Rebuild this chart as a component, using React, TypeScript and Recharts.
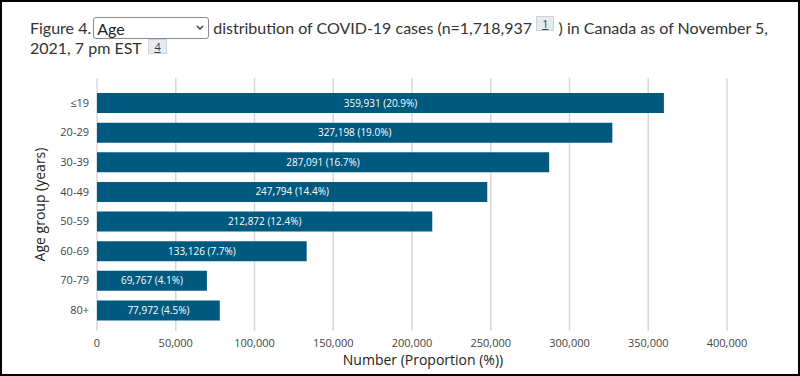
import React from "react";
import { BarChart, Bar, XAxis, YAxis, CartesianGrid, LabelList, Label } from "recharts";

const ageGroups = ["≤19", "20-29", "30-39", "40-49", "50-59", "60-69", "70-79", "80+"];
const caseCounts = [359931, 327198, 287091, 247794, 212872, 133126, 69767, 77972];
const proportions = [20.9, 19.0, 16.7, 14.4, 12.4, 7.7, 4.1, 4.5];
const xTicks = [0, 50000, 100000, 150000, 200000, 250000, 300000, 350000, 400000];

const data = ageGroups.map((g, i) => ({
  group: g,
  count: caseCounts[i],
  label: `${caseCounts[i].toLocaleString("en-US")} (${proportions[i].toFixed(1)}%)`,
}));

const fmt = (v: number) => v.toLocaleString("en-US");

const supStyle: React.CSSProperties = {
  display: "inline-block",
  boxSizing: "border-box",
  height: 15,
  lineHeight: "13px",
  padding: "0 5px",
  fontSize: 11,
  fontFamily: "'Open Sans', sans-serif",
  background: "#e8ebee",
  border: "1px solid #cfd3d7",
  color: "#284162",
  textDecoration: "underline",
  alignSelf: "flex-start",
};

const lineStyle: React.CSSProperties = {
  position: "absolute",
  height: 22,
  lineHeight: "22px",
  display: "flex",
  alignItems: "center",
  whiteSpace: "pre",
  fontFamily: "Lato, sans-serif",
  fontSize: 16,
  color: "#333",
};

export default function App() {
  return (
    <div style={{ position: "fixed", left: 0, top: 0, width: 800, height: 376, background: "#fff", overflow: "hidden" }}>
      <div style={{ ...lineStyle, left: 30, top: 17 }}>
        <span>Figure 4.</span>
        <span style={{ position: "relative", display: "inline-block", marginLeft: 2, marginRight: 4 }}>
          <select
            defaultValue="Age"
            style={{
              width: 116,
              height: 22,
              display: "block",
              appearance: "none",
              WebkitAppearance: "none",
              fontFamily: "Lato, sans-serif",
              fontSize: 16,
              color: "#222",
              border: "1px solid #8a8a8a",
              borderRadius: 3,
              background: "#fff",
              padding: "0 0 0 3px",
              margin: 0,
            }}
          >
            <option value="Age">Age</option>
          </select>
          <svg width={8} height={6} style={{ position: "absolute", right: 5, top: 8 }}>
            <polyline points="1,1 4,4 7,1" fill="none" stroke="#333" strokeWidth={1.3} />
          </svg>
        </span>
        <span>distribution of COVID-19 cases (n=1,718,937 </span>
        <span style={{ ...supStyle, marginTop: -1 }}>1</span>
        <span> ) in Canada as of November 5,</span>
      </div>
      <div style={{ ...lineStyle, left: 30, top: 37 }}>
        <span>2021, 7 pm EST </span>
        <span style={{ ...supStyle, marginTop: 2, marginLeft: 3 }}>4</span>
      </div>

      <div style={{ position: "absolute", left: 0, top: 0 }}>
        <BarChart
          width={800}
          height={376}
          data={data}
          layout="vertical"
          margin={{ top: 78, right: 73, bottom: 15, left: 0 }}
        >
          <CartesianGrid horizontal={false} stroke="#d8d8d8" strokeWidth={1.5} />
          <XAxis
            type="number"
            dataKey="count"
            domain={[0, 400000]}
            ticks={xTicks}
            tickFormatter={fmt}
            axisLine={false}
            tickLine={false}
            height={30}
            tick={{ fontSize: 11, fill: "#444", fontFamily: "'Open Sans', sans-serif" }}
          >
            <Label
              value="Number (Proportion (%))"
              position="insideBottom"
              offset={-4}
              dx={11}
              style={{ fontSize: 14, fill: "#222", fontFamily: "'Open Sans', sans-serif" }}
            />
          </XAxis>
          <YAxis
            type="category"
            dataKey="group"
            width={97}
            axisLine={false}
            tickLine={false}
            padding={{ top: 10, bottom: 6 }}
            tick={{ fontSize: 11, fill: "#444", fontFamily: "'Open Sans', sans-serif" }}
          >
            <Label
              value="Age group (years)"
              angle={-90}
              position="insideLeft"
              offset={40}
              style={{ fontSize: 14, fill: "#222", fontFamily: "'Open Sans', sans-serif", textAnchor: "middle" }}
            />
          </YAxis>
          <Bar dataKey="count" fill="#00597f" barSize={20} isAnimationActive={false}>
            <LabelList
              dataKey="label"
              position="center"
              fill="#fff"
              style={{ fontSize: 10, fontFamily: "'Open Sans', sans-serif" }}
            />
          </Bar>
        </BarChart>
      </div>

      <div
        style={{
          position: "absolute",
          left: 0,
          top: 0,
          width: 800,
          height: 376,
          boxSizing: "border-box",
          border: "2px solid #000",
          pointerEvents: "none",
        }}
      />
    </div>
  );
}
